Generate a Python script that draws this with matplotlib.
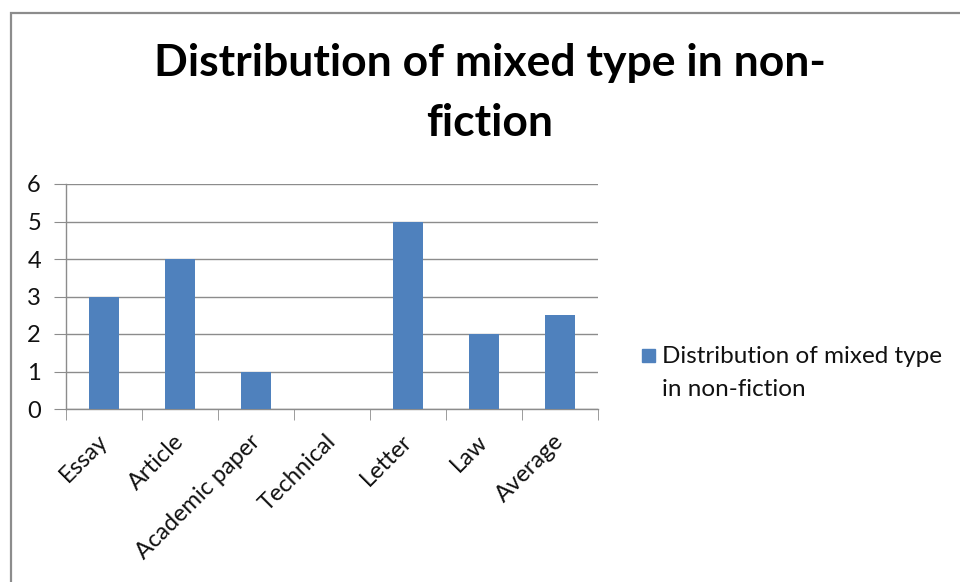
import matplotlib
matplotlib.use("Agg")
import matplotlib.pyplot as plt
from matplotlib.patches import Rectangle
from matplotlib.transforms import ScaledTranslation
import numpy as np

categories = ["Essay", "Article", "Academic paper", "Technical", "Letter", "Law", "Average"]
values = [3, 4, 1, 0, 5, 2, 2.5]
series_name = "Distribution of mixed type in non-fiction"
title = "Distribution of mixed type in non-\nfiction"

W, H = 960, 582
plt.rcParams["font.family"] = ["Lato", "DejaVu Sans"]

fig = plt.figure(figsize=(W / 100, H / 100), dpi=100)

# outer chart border
fig.patches.append(Rectangle((11 / W, -0.05), 1.2, (H - 13) / H + 0.05,
                             transform=fig.transFigure, fill=False,
                             edgecolor="#8c8c8c", linewidth=1.6))

left, right, top, bottom = 66, 598, 184, 409
ax = fig.add_axes([left / W, (H - bottom) / H, (right - left) / W, (bottom - top) / H])

bar_color = "#4f81bd"
x = np.arange(len(categories))
ax.bar(x, values, width=0.4, color=bar_color, zorder=3)

ax.set_xlim(-0.5, len(categories) - 0.5)
ax.set_ylim(0, 6)
ax.set_yticks(range(0, 7))
ax.yaxis.grid(True, color="#8c8c8c", linewidth=1.0, zorder=0)

for s in ["top", "right"]:
    ax.spines[s].set_visible(False)
for s in ["left", "bottom"]:
    ax.spines[s].set_color("#8c8c8c")
    ax.spines[s].set_linewidth(1.0)

ax.tick_params(axis="y", length=9, color="#8c8c8c", labelsize=17, pad=9, labelcolor="#111111")
ax.set_xticks(x)
ax.set_xticklabels(categories, rotation=45, ha="right", va="top",
                   rotation_mode="anchor", fontsize=17, color="#111111")
ax.tick_params(axis="x", which="major", length=0, pad=12)
ax.set_xticks(np.arange(-0.5, len(categories)), minor=True)
ax.tick_params(axis="x", which="minor", length=8, color="#8c8c8c")

shift = ScaledTranslation(-7 / 100, -5 / 100, fig.dpi_scale_trans)
for lbl in ax.get_xticklabels():
    lbl.set_transform(lbl.get_transform() + shift)

fig.text(490 / W, 1 - 43 / H, title, ha="center", va="top", fontsize=32,
         fontweight="bold", linespacing=1.6, color="#000000")

# legend
fig.patches.append(Rectangle((642 / W, 1 - 362 / H), 13 / W, 13 / H,
                             transform=fig.transFigure, color=bar_color))
fig.text(662 / W, 1 - 346 / H, "Distribution of mixed type\nin non-fiction",
         ha="left", va="top", fontsize=17.5, linespacing=1.7, color="#111111")

fig.savefig("out.png", dpi=100, facecolor="white")
